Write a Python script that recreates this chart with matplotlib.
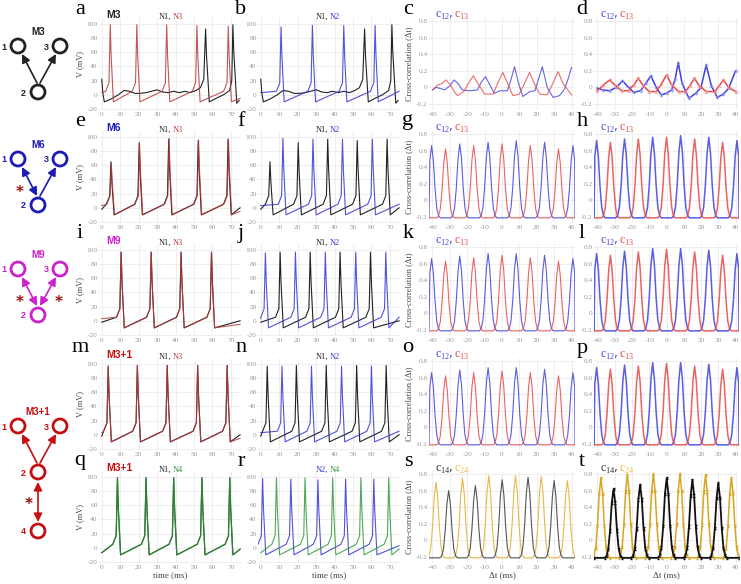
import numpy as np
import matplotlib
matplotlib.use("Agg")
from matplotlib import pyplot as plt
from matplotlib.patches import Circle

# ---------------- data ----------------
# spike shape template (offset from peak in ms); levels filled per spike
SPK_DT = [-2.5, -0.7, 0.0, 0.5, 1.7]
PRE, RESET = 5, -10

# N1 in motif M3 (barely spiking), explicit points
a_n1_t = [0, 0.6, 1.4, 5, 9, 12, 15, 18, 21, 24, 27, 30, 33, 36, 39, 42, 45, 48, 51, 53.5, 55.3,
          56.3, 56.8, 58.3, 62, 66, 69.3, 70.5, 71.1, 71.6, 73.2, 74.5]
a_n1_v = [22, 2, -10, -6, 0, 6, 5, 2, 2, 3, 5, 7, 4, 3, 5, 3, 5, 3, 6, 10, 22,
          93, 55, -10, -5, 0, 6, 20, 99, 60, -12, -8]

a_n3_sp = [4.6, 19.0, 35.2, 51.6, 68.6]
a_n3_pk = [99, 99, 99, 98, 97]
b_n2_sp = [11.0, 28.0, 45.0, 62.0]
b_n2_pk = [96, 98, 98, 98]

e_n1_sp = [5.0, 20.3, 36.3, 52.3, 68.5]
e_n1_pk = [65, 92, 97, 95, 97]
e_n3_sp = [5.2, 20.5, 36.5, 52.5, 68.7]
e_n3_pk = [62, 90, 98, 96, 97]
f_n2_sp = [12.0, 28.3, 44.3, 60.5]
f_n2_pk = [98, 97, 97, 97]

i_n1_sp = [10.5, 26.8, 43.0, 59.5]
i_n1_pk = [97, 97, 97, 97]
j_n2_sp = [2.5, 18.8, 35.0, 51.5, 67.8]
j_n2_pk = [96, 97, 97, 97, 97]

m_n1_sp = [3.5, 19.3, 35.5, 52.0, 68.0]
m_n1_pk = [97, 98, 98, 98, 98]
n_n2_sp = [11.5, 27.5, 43.8, 60.0]
n_n2_pk = [97, 97, 97, 97]

q_n1_sp = [8.5, 24.0, 39.0, 54.3, 69.4]
q_n1_pk = [99, 99, 99, 99, 99]
r_n2_sp = [1.0, 16.3, 31.0, 46.0, 61.3]
r_n2_pk = [98, 97, 96, 97, 97]

# weak cross-correlations of row 1, explicit points
c_lag12 = [-40, -38, -36, -33, -30, -27.5, -25, -23, -19, -14, -12, -9.5, -7, -4.4, -1, 3, 5, 7.2,
           9.5, 12, 16, 19, 21, 23.2, 26, 29.4, 33, 36, 38, 40]
c_c12 = [-0.03, 0.0, -0.01, -0.03, 0.02, 0.09, 0.04, -0.03, -0.04, -0.03, 0.06, 0.13, 0.03, -0.07,
         -0.04, -0.04, 0.08, 0.25, 0.05, -0.11, -0.05, -0.04, 0.1, 0.25, 0.0, -0.12, -0.1, -0.02, 0.1, 0.24]
c_lag13 = [-40, -37, -35, -32.3, -30, -27.5, -25.6, -22, -19, -16.5, -14, -10, -5, -2.5, 0.5, 3, 6.3,
           10, 13, 15.9, 18.5, 21.7, 26, 29.5, 32.3, 35, 40]
c_c13 = [-0.03, 0.03, 0.04, 0.09, 0.04, -0.05, -0.1, -0.05, 0.06, 0.14, 0.05, -0.08, -0.08, 0.05, 0.18,
         0.06, -0.1, -0.08, 0.05, 0.18, 0.05, -0.08, -0.09, 0.06, 0.19, 0.05, -0.09]
d_lag12 = [-40, -37, -33, -29, -25.5, -22, -19, -15, -12, -9, -6, -3, 0, 3, 5, 6.8, 9, 13, 17, 20,
           23, 26, 29.4, 33, 36, 40]
d_c12 = [-0.01, -0.03, -0.04, 0.0, 0.08, 0.0, -0.06, -0.04, 0.05, 0.14, 0.0, -0.09, -0.07, -0.03,
         0.1, 0.30, 0.05, -0.13, -0.07, 0.0, 0.27, 0.02, -0.12, -0.08, -0.01, 0.2]
d_lag13 = [-40, -36.5, -32.9, -29.5, -26, -22, -19, -16.3, -13.5, -10, -6, -3, 0, 3, 7, 11, 13.5,
           16.2, 19, 23, 28, 30.5, 33, 36, 40]
d_c13 = [-0.04, 0.03, 0.09, 0.02, -0.04, -0.04, 0.03, 0.11, 0.02, -0.05, -0.05, 0.04, 0.15, 0.03,
         -0.05, -0.05, 0.02, 0.11, 0.02, -0.05, -0.05, 0.02, 0.09, 0.0, -0.05]

# peak template for the strong correlations (offset in ms, fraction of height)
PK_DT = [-5, -4, -3, -2, -1, 0, 1, 2, 3, 4, 5]
PK_F = [0.0, 0.03, 0.13, 0.40, 0.80, 1.0, 0.80, 0.40, 0.13, 0.03, 0.0]
CC_BASE = -0.21

g_pk12 = [-40.5, -24.3, -8.0, 8.2, 24.5, 40.8]
g_h12 = [0.66, 0.68, 0.70, 0.72, 0.70, 0.66]
g_pk13 = [-32.5, -16.3, 0.0, 16.3, 32.5]
g_h13 = [0.62, 0.66, 0.68, 0.66, 0.62]
h_h12 = [0.72, 0.74, 0.76, 0.78, 0.76, 0.72]
h_h13 = [0.70, 0.74, 0.76, 0.74, 0.70]

k_pk12 = [-40.5, -24.3, -8.0, 8.2, 24.5, 40.8]
k_h12 = [0.66, 0.69, 0.72, 0.72, 0.70, 0.66]
k_pk13 = [-32.5, -16.3, 0.0, 16.3, 32.5]
k_h13 = [0.63, 0.67, 0.70, 0.67, 0.63]
l_h12 = [0.72, 0.75, 0.78, 0.78, 0.76, 0.72]
l_h13 = [0.70, 0.74, 0.77, 0.74, 0.70]

o_pk12 = [-40.5, -24.3, -8.0, 8.2, 24.5, 40.8]
o_h12 = [0.66, 0.69, 0.72, 0.72, 0.70, 0.66]
o_pk13 = [-32.5, -16.3, 0.0, 16.3, 32.5]
o_h13 = [0.62, 0.66, 0.68, 0.66, 0.62]
p_h12 = [0.72, 0.75, 0.78, 0.78, 0.76, 0.72]
p_h13 = [0.70, 0.74, 0.77, 0.74, 0.70]

s_pk14 = [-30.7, -15.3, 0.1, 15.0, 30.0]
s_h14 = [0.60, 0.66, 0.73, 0.76, 0.72]
s_pk24 = [-38.0, -22.7, -7.6, 7.8, 22.6, 37.6]
s_h24 = [0.70, 0.75, 0.78, 0.78, 0.77, 0.72]
t_h14 = [0.62, 0.67, 0.75, 0.73, 0.69]
t_h24 = [0.75, 0.79, 0.80, 0.80, 0.79, 0.75]

# ---------------- helpers ----------------
plt.rcParams['axes.unicode_minus'] = False
plt.rcParams['mathtext.fontset'] = 'custom'
plt.rcParams['mathtext.rm'] = 'Liberation Serif'
W, H = 741, 584
fig = plt.figure(figsize=(W / 100, H / 100), dpi=100)
SERIF = 'Liberation Serif'
SANS = 'Liberation Sans'

BLACK = '#222222'
RED = '#b8383a'
BLUE = '#3434d4'
GREEN = '#2f9a3c'
CBLUE = '#4040e0'
CRED = '#e84848'
GOLD = '#e8b84a'
GRID = '#ebebeb'
TICK = '#9a9a9a'


def spike_trace(times, peaks, v0=None, vend=None):
    xs, ys = [], []
    if v0 is not None:
        xs.append(0.0); ys.append(v0)
    for t, p in zip(times, peaks):
        vals = [PRE, PRE + 12, p, 0.55 * p, RESET]
        for d, v in zip(SPK_DT, vals):
            xs.append(t + d); ys.append(v)
    if vend is not None:
        xs.append(75.0); ys.append(vend)
    return xs, ys


def cc_curve(peaks, heights):
    xs, ys = [-42.0], [CC_BASE]
    for p, h in zip(peaks, heights):
        for d, f in zip(PK_DT, PK_F):
            xs.append(p + d); ys.append(CC_BASE + f * (h - CC_BASE))
    xs.append(42.0); ys.append(CC_BASE)
    o = np.argsort(xs, kind='stable')
    return np.array(xs)[o], np.array(ys)[o]


COLS = [(99, 241), (258, 400), (429, 575), (594, 739)]
ROWS = [18, 131, 244, 358, 471]
RH = 92


def make_ax(ci, ri, kind):
    l, r = COLS[ci]
    top = ROWS[ri]
    ax = fig.add_axes([l / W, 1 - (top + RH) / H, (r - l) / W, RH / H])
    for s in ax.spines.values():
        s.set_visible(False)
    ax.grid(True, color=GRID, lw=0.6)
    ax.set_axisbelow(True)
    ax.tick_params(length=0, labelsize=5.3, labelcolor=TICK)
    ax.tick_params(axis='x', pad=1.5)
    ax.tick_params(axis='y', pad=1.0)
    if kind == 'v':
        ax.set_xlim(-1.5, 75.5)
        ax.set_ylim(-21.5, 108.5)
        ax.set_xticks(range(0, 71, 10))
        ax.set_yticks(range(-20, 101, 20))
    else:
        ax.set_xlim(-42, 42)
        ax.set_ylim(-0.272, 0.836)
        ax.set_xticks(range(-40, 41, 10))
        ax.set_yticks([-0.2, 0, 0.2, 0.4, 0.6, 0.8])
        ax.set_yticklabels(['-0.2', '0', '0.2', '0.4', '0.6', '0.8'])
    for lab in ax.get_xticklabels() + ax.get_yticklabels():
        lab.set_fontfamily(SERIF)
    if ci == 0:
        ax.set_ylabel('V (mV)', fontfamily=SERIF, fontsize=6, color='#444444', labelpad=2)
    if ci == 2:
        ax.set_ylabel('Cross-correlation (\u0394t)', fontfamily=SERIF, fontsize=6, color='#444444', labelpad=2)
    if ri == 4:
        ax.set_xlabel('time (ms)' if kind == 'v' else '\u0394t (ms)', fontfamily=SERIF,
                      fontsize=6.5, color='#444444', labelpad=1)
    return ax


def ftext(x, y, s, **kw):
    fig.text(x / W, 1 - y / H, s, **kw)


def two_label(x, y, s1, c1, s2, c2, dx, size):
    ftext(x, y, s1, color=c1, fontsize=size, fontfamily=SERIF, va='center')
    ftext(x + dx, y, s2, color=c2, fontsize=size, fontfamily=SERIF, va='center')


def cc_label(ci, ri, s1, c1, s2, c2):
    x = COLS[ci][0] + 6
    y = ROWS[ri] - 2
    ftext(x, y, s1, color=c1, fontsize=8.5, va='center')
    ftext(x + 19, y, s2, color=c2, fontsize=8.5, va='center')


# ---------------- voltage panels ----------------
volt_rows = [
    (a_n3_sp, a_n3_pk, b_n2_sp, b_n2_pk, 'M3', BLACK),
    (e_n3_sp, e_n3_pk, f_n2_sp, f_n2_pk, 'M6', '#1c1cb4'),
    (i_n1_sp, i_n1_pk, j_n2_sp, j_n2_pk, 'M9', '#cc22cc'),
    (m_n1_sp, m_n1_pk, n_n2_sp, n_n2_pk, 'M3+1', '#c41010'),
]
n1_rows = [None, (e_n1_sp, e_n1_pk), (i_n1_sp, i_n1_pk), (m_n1_sp, m_n1_pk)]

for ri, row in enumerate(volt_rows):
    sp3, pk3, sp2, pk2, title, tcol = row
    axl = make_ax(0, ri, 'v')
    axr = make_ax(1, ri, 'v')
    if ri == 0:
        n1x, n1y = a_n1_t, a_n1_v
    else:
        n1x, n1y = spike_trace(n1_rows[ri][0], n1_rows[ri][1], v0=-2, vend=0)
    x3, y3 = spike_trace(sp3, pk3, v0=3, vend=-5)
    x2, y2 = spike_trace(sp2, pk2, v0=3, vend=5)
    axl.plot(n1x, n1y, color=BLACK, lw=0.8)
    axl.plot(x3, y3, color=RED, lw=0.8, alpha=0.85)
    axr.plot(n1x, n1y, color=BLACK, lw=0.8)
    axr.plot(x2, y2, color=BLUE, lw=0.8, alpha=0.85)
    ftext(COLS[0][0] + 7, ROWS[ri] - 3, title, color=tcol, fontsize=7.5, fontfamily=SANS,
          fontweight='bold', va='center')
    two_label(COLS[0][0] + 60, ROWS[ri] - 1, 'N1,', BLACK, 'N3', RED, 14, 6)
    two_label(COLS[1][0] + 58, ROWS[ri] - 1, 'N1,', BLACK, 'N2', BLUE, 14, 6)

# row 5: N1/N4 and N2/N4
axq = make_ax(0, 4, 'v')
axr5 = make_ax(1, 4, 'v')
qx1, qy1 = spike_trace(q_n1_sp, q_n1_pk, v0=-7, vend=-2)
rx2, ry2 = spike_trace(r_n2_sp, r_n2_pk, vend=3)
axq.plot(qx1, qy1, color='#1e3a1e', lw=0.9)
axq.plot(qx1, qy1, color=GREEN, lw=0.8, alpha=0.8)
axr5.plot(rx2, ry2, color=BLUE, lw=0.8, alpha=0.85)
axr5.plot(qx1, qy1, color=GREEN, lw=0.8, alpha=0.85)
ftext(COLS[0][0] + 7, ROWS[4] - 3, 'M3+1', color='#c41010', fontsize=7.5, fontfamily=SANS,
      fontweight='bold', va='center')
two_label(COLS[0][0] + 60, ROWS[4] - 1, 'N1,', BLACK, 'N4', GREEN, 14, 6)
two_label(COLS[1][0] + 58, ROWS[4] - 1, 'N2,', BLUE, 'N4', GREEN, 14, 6)

# ---------------- cross-correlation panels ----------------
axc = make_ax(2, 0, 'c')
axc.plot(c_lag12, c_c12, color=CBLUE, lw=0.8, alpha=0.8)
axc.plot(c_lag13, c_c13, color=CRED, lw=0.8, alpha=0.8)
axd = make_ax(3, 0, 'c')
axd.errorbar(d_lag12, d_c12, yerr=0.02, color=CBLUE, lw=1.1, ecolor='#b0b0f4', elinewidth=0.6,
             marker='o', ms=2, mfc='none', mec='#a0a0f0', mew=0.5)
axd.errorbar(d_lag13, d_c13, yerr=0.02, color=CRED, lw=1.1, ecolor='#f4b0b0', elinewidth=0.6,
             marker='o', ms=2, mfc='none', mec='#f0a0a0', mew=0.5)
cc_label(2, 0, r'$\mathrm{c}_{12}$,', CBLUE, r'$\mathrm{c}_{13}$', CRED)
cc_label(3, 0, r'$\mathrm{c}_{12}$,', CBLUE, r'$\mathrm{c}_{13}$', CRED)

cc_rows = [
    (g_pk12, g_h12, g_pk13, g_h13, h_h12, h_h13),
    (k_pk12, k_h12, k_pk13, k_h13, l_h12, l_h13),
    (o_pk12, o_h12, o_pk13, o_h13, p_h12, p_h13),
]
for k, (pk12, h12, pk13, h13, hh12, hh13) in enumerate(cc_rows):
    ri = k + 1
    ax3 = make_ax(2, ri, 'c')
    ax4 = make_ax(3, ri, 'c')
    for ax, ha, hb, lw in [(ax3, h12, h13, 0.8), (ax4, hh12, hh13, 1.1)]:
        xb, yb = cc_curve(pk12, ha)
        xr, yr = cc_curve(pk13, hb)
        ax.plot(xb, yb, color=CBLUE, lw=lw, alpha=0.85)
        ax.plot(xr, yr, color=CRED, lw=lw, alpha=0.85)
    cc_label(2, ri, r'$\mathrm{c}_{12}$,', CBLUE, r'$\mathrm{c}_{13}$', CRED)
    cc_label(3, ri, r'$\mathrm{c}_{12}$,', CBLUE, r'$\mathrm{c}_{13}$', CRED)

axs = make_ax(2, 4, 'c')
axt = make_ax(3, 4, 'c')
xs1, ys1 = cc_curve(s_pk14, s_h14)
xs2, ys2 = cc_curve(s_pk24, s_h24)
axs.plot(xs2, ys2, color=GOLD, lw=0.8)
axs.plot(xs1, ys1, color='#555555', lw=0.8)
xt1, yt1 = cc_curve(s_pk14, t_h14)
xt2, yt2 = cc_curve(s_pk24, t_h24)
axt.errorbar(xt2, yt2, yerr=0.015, color='#d9a520', lw=1.1, elinewidth=0.6, capsize=1)
axt.errorbar(xt1, yt1, yerr=0.015, color='#111111', lw=1.3, elinewidth=0.6, capsize=1)
cc_label(2, 4, r'$\mathrm{c}_{14}$,', '#333333', r'$\mathrm{c}_{24}$', GOLD)
cc_label(3, 4, r'$\mathrm{c}_{14}$,', '#333333', r'$\mathrm{c}_{24}$', GOLD)

# ---------------- panel letters ----------------
letters = 'abcdefghijklmnopqrst'
LX = [80, 241, 408, 582]
LY = [9, 121, 234, 348, 461]
for n, ch in enumerate(letters):
    ftext(LX[n % 4], LY[n // 4], ch, fontsize=16, fontfamily=SERIF, ha='center', va='center')

# ---------------- motif diagrams ----------------
mot = fig.add_axes([0, 0, 1, 1], zorder=-1)
mot.set_xlim(0, W)
mot.set_ylim(H, 0)
mot.axis('off')
R = 7


def node(x, y, lab, c, lx):
    mot.add_patch(Circle((x, y), R, fill=False, ec=c, lw=2.0))
    mot.text(lx, y + 1, lab, color=c, fontsize=6.5, fontweight='bold', fontfamily=SANS,
             ha='center', va='center')


def link(p0, p1, c, both=False):
    style = '<|-|>' if both else '-|>'
    mot.annotate('', xy=p1, xytext=p0,
                 arrowprops=dict(arrowstyle=style + ',head_length=0.5,head_width=0.25',
                                 color=c, lw=1.2, shrinkA=0, shrinkB=0))


def star(x, y):
    mot.text(x, y, '*', color='#a01010', fontsize=11, fontweight='bold', ha='center', va='center')


motifs = [
    ('M3', BLACK, 32, [False, False], []),
    ('M6', '#1c1cb4', 145, [True, False], [(20, 193)]),
    ('M9', '#cc22cc', 255, [True, True], [(20, 303), (59, 303)]),
    ('M3+1', '#c41010', 412, [False, False], []),
]
for name, c, ty, both, stars in motifs:
    y1 = ty + 14
    y2 = y1 + 46
    mot.text(38, ty, name, color=c, fontsize=7, fontweight='bold', fontfamily=SANS,
             ha='center', va='center')
    node(18, y1, '1', c, 4)
    node(60, y1, '3', c, 46)
    node(38, y2, '2', c, 23)
    link((37, y2 - 9), (22, y1 + 8), c, both[0])
    link((40, y2 - 9), (56, y1 + 8), c, both[1])
    for sx, sy in stars:
        star(sx, sy)
    if name == 'M3+1':
        node(38, 531, '4', c, 23)
        link((38, y2 + 10), (38, 522), c, True)
        star(29, 505)

fig.savefig('out.png', dpi=100)
